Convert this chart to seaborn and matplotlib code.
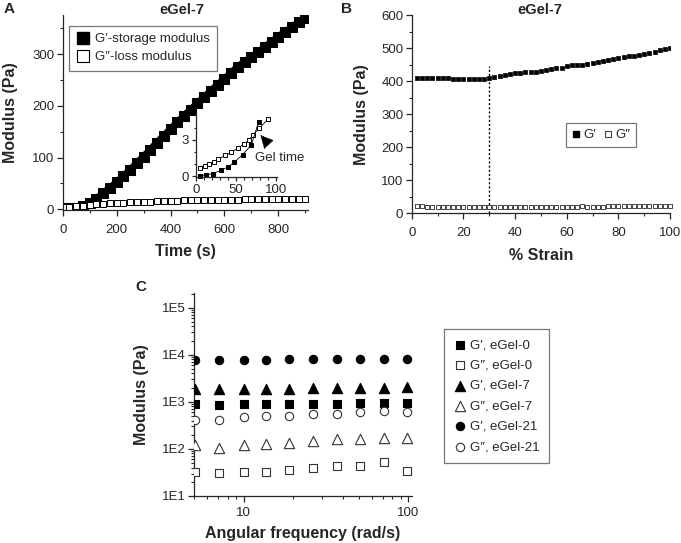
import numpy as np
import matplotlib
matplotlib.use("Agg")
import matplotlib.pyplot as plt
from matplotlib.ticker import MultipleLocator, LogLocator, NullFormatter, FuncFormatter
from matplotlib.lines import Line2D
import seaborn as sns

# ---- panel A: time sweep, eGel-7
time_a = [0, 25, 50, 75, 100, 125, 150, 175, 200, 225, 250, 275, 300, 325, 350, 375,
          400, 425, 450, 475, 500, 525, 550, 575, 600, 625, 650, 675, 700, 725, 750,
          775, 800, 825, 850, 875, 900]
gp_a = [2, 2, 3, 6, 12, 20, 31, 41, 52, 64, 76, 89, 102, 115, 129, 142,
        155, 168, 181, 193, 205, 217, 229, 241, 252, 264, 276, 285, 294, 304, 314,
        324, 334, 343, 352, 362, 370]
gpp_a = [4, 5, 6, 7, 9, 10, 11, 12, 13, 13, 14, 14, 15, 15, 16, 16,
         16, 16, 17, 17, 17, 17, 17, 18, 18, 18, 18, 19, 19, 19, 20,
         20, 20, 20, 20, 19, 19]

# inset: early gelation
time_in_gp = [5, 13, 21, 31, 40, 48, 58, 69, 78]
gp_in = [0.03, 0.1, 0.2, 0.48, 0.76, 1.15, 1.76, 2.57, 4.45]
time_in_gpp = [5, 11, 16, 22, 28, 36, 44, 52, 60, 66, 71, 79, 90]
gpp_in = [0.7, 0.85, 1.0, 1.15, 1.4, 1.7, 1.95, 2.3, 2.65, 2.95, 3.4, 3.95, 4.7]

# ---- panel B: strain sweep, eGel-7
strain_b = [2, 4, 6, 8, 10, 12, 14, 16, 18, 20, 22, 24, 26, 28, 30, 32, 34, 36, 38, 40,
            42, 44, 46, 48, 50, 52, 54, 56, 58, 60, 62, 64, 66, 68, 70, 72, 74, 76, 78, 80,
            82, 84, 86, 88, 90, 92, 94, 96, 98, 100]
gp_b = [410, 409, 408, 408, 408, 408, 408, 407, 407, 406, 405, 405, 406, 407, 409, 411,
        414, 417, 420, 423, 425, 427, 428, 429, 431, 434, 436, 439, 441, 446, 448, 449,
        450, 452, 454, 457, 460, 463, 466, 470, 472, 475, 477, 480, 483, 486, 489, 493,
        497, 500]
gpp_b = [21, 21, 20, 19, 20, 20, 19, 20, 20, 20, 19, 20, 20, 20, 19, 20,
         20, 20, 20, 20, 20, 19, 20, 20, 20, 20, 19, 20, 20, 20, 20, 20,
         21, 20, 20, 20, 20, 21, 21, 21, 21, 21, 21, 21, 21, 21, 21, 21,
         21, 21]
gel_strain = 30
gel_line_top = 445

# ---- panel C: frequency sweep
freq_c = [5.1, 7.1, 10, 13.6, 19, 26.3, 36.7, 50.8, 71, 98]
gp_egel0 = [880, 865, 890, 890, 890, 920, 920, 935, 935, 950]
gpp_egel0 = [31.8, 30.3, 31.8, 32.8, 35.1, 38.7, 43.9, 43.9, 53.5, 34.4]
gp_egel7 = [1920, 1920, 1920, 1920, 1920, 1950, 1970, 1990, 2010, 2030]
gpp_egel7 = [120, 103, 120, 128, 135, 148, 160, 162, 172, 172]
gp_egel21 = [7700, 7700, 7900, 7900, 7950, 7950, 7950, 8200, 8200, 8300]
gpp_egel21 = [415, 415, 465, 490, 510, 555, 555, 600, 640, 600]

sns.set_theme(style="ticks")
plt.rcParams['font.family'] = ['Liberation Sans', 'DejaVu Sans']
plt.rcParams.update({
    'axes.linewidth': 0.9,
    'xtick.major.size': 4, 'ytick.major.size': 4,
    'xtick.minor.size': 2.2, 'ytick.minor.size': 2.2,
    'xtick.major.width': 0.9, 'ytick.major.width': 0.9,
    'xtick.minor.width': 0.8, 'ytick.minor.width': 0.8,
    'xtick.labelsize': 9.5, 'ytick.labelsize': 9.5,
    'xtick.major.pad': 2, 'ytick.major.pad': 2,
})

W, H = 681, 543
fig = plt.figure(figsize=(W / 100, H / 100), dpi=100)


def rect(x0, y0, x1, y1):
    # pixel box (top-left origin) -> figure fraction
    return [x0 / W, 1 - y1 / H, (x1 - x0) / W, (y1 - y0) / H]


label_kw = dict(fontsize=11.5, fontweight='bold')

# ================= A
ax_a = fig.add_axes(rect(62.7, 15, 308, 210))
sns.lineplot(x=time_a, y=gp_a, ax=ax_a, color='black', lw=5.2, marker='s', markersize=6.6,
             markeredgecolor='black')
sns.lineplot(x=time_a, y=gpp_a, ax=ax_a, color='black', lw=0.6, marker='s', markersize=4.8,
             markerfacecolor='white', markeredgecolor='black', markeredgewidth=0.7)
ax_a.set_xlim(0, 910)
ax_a.set_ylim(-1.4, 376)
ax_a.xaxis.set_major_locator(MultipleLocator(200))
ax_a.xaxis.set_minor_locator(MultipleLocator(100))
ax_a.yaxis.set_major_locator(MultipleLocator(100))
ax_a.yaxis.set_minor_locator(MultipleLocator(50))
ax_a.tick_params(axis='x', which='major', pad=6)
ax_a.set_xlabel('Time (s)', labelpad=6, **label_kw)
ax_a.set_ylabel('Modulus (Pa)', labelpad=10, **label_kw)
sns.despine(ax=ax_a)
handles_a = [Line2D([], [], ls='', marker='s', markersize=9, color='black'),
             Line2D([], [], ls='', marker='s', markersize=9, markerfacecolor='white',
                    markeredgecolor='black', markeredgewidth=0.8)]
leg = ax_a.legend(handles_a, ['G\u2032-storage modulus', 'G\u2033-loss modulus'],
                  loc='upper left', bbox_to_anchor=(0.025, 0.945), fontsize=9.5,
                  frameon=True, fancybox=False, edgecolor='#555555', handlelength=1.0,
                  handletextpad=0.4, borderpad=0.55, labelspacing=0.45, borderaxespad=0)
leg.get_frame().set_linewidth(0.9)

# inset
ax_in = fig.add_axes(rect(196, 113, 277, 176.7))
ax_in.patch.set_alpha(0)
sns.lineplot(x=time_in_gpp, y=gpp_in, ax=ax_in, color='black', lw=0.6, marker='s',
             markersize=3.3, markerfacecolor='white', markeredgecolor='black',
             markeredgewidth=0.7, clip_on=False)
sns.lineplot(x=time_in_gp, y=gp_in, ax=ax_in, color='black', lw=0.6, marker='s',
             markersize=3.3, markeredgecolor='black', clip_on=False)
ax_in.set_xlim(0, 101)
ax_in.set_ylim(-0.05, 5.2)
ax_in.xaxis.set_major_locator(MultipleLocator(50))
ax_in.xaxis.set_minor_locator(MultipleLocator(10))
ax_in.yaxis.set_major_locator(MultipleLocator(3))
ax_in.yaxis.set_minor_locator(MultipleLocator(1))
ax_in.tick_params(labelsize=9.5, length=3)
ax_in.tick_params(which='minor', length=1.8)
ax_in.set_xlabel('')
ax_in.set_ylabel('')
sns.despine(ax=ax_in)
ax_in.annotate('', xy=(77.8, 3.56), xytext=(93, 2.45),
               arrowprops=dict(arrowstyle='-|>,head_length=0.7,head_width=0.35',
                               color='black', lw=0.6, ls=':'), annotation_clip=False)
ax_in.text(104, 1.5, 'Gel time', ha='center', va='center', fontsize=9.5, clip_on=False)

fig.text(182 / W, 1 - 10 / H, 'eGel-7', ha='center', va='center', fontsize=10.5,
         fontweight='bold')
fig.text(4 / W, 1 - 9 / H, 'A', ha='left', va='center', fontsize=11, fontweight='bold')

# ================= B
ax_b = fig.add_axes(rect(411.7, 15, 670, 213.3))
sns.scatterplot(x=strain_b, y=gpp_b, ax=ax_b, marker='s', s=9, color='white',
                edgecolor='#444444', linewidth=0.7, clip_on=False, zorder=3)
sns.scatterplot(x=strain_b, y=gp_b, ax=ax_b, marker='s', s=9, color='black',
                edgecolor='black', linewidth=0.5, zorder=3)
ax_b.plot([gel_strain, gel_strain], [0, gel_line_top], color='black', lw=1.0,
          ls=(0, (1.5, 1.5)))
ax_b.set_xlim(0, 100)
ax_b.set_ylim(0, 600)
ax_b.xaxis.set_major_locator(MultipleLocator(20))
ax_b.xaxis.set_minor_locator(MultipleLocator(10))
ax_b.yaxis.set_major_locator(MultipleLocator(100))
ax_b.yaxis.set_minor_locator(MultipleLocator(50))
ax_b.tick_params(axis='x', which='major', pad=6)
ax_b.set_xlabel('% Strain', labelpad=6, **label_kw)
ax_b.set_ylabel('Modulus (Pa)', labelpad=9, **label_kw)
sns.despine(ax=ax_b)
handles_b = [Line2D([], [], ls='', marker='s', markersize=5, color='black'),
             Line2D([], [], ls='', marker='s', markersize=5, markerfacecolor='white',
                    markeredgecolor='#444444', markeredgewidth=0.8)]
leg_b = ax_b.legend(handles_b, ['G\u2032', 'G\u2033'], ncol=2, loc='center',
                    bbox_to_anchor=((601 - 411.7) / 258.3, (213.3 - 135) / 198.3),
                    fontsize=9.5, frameon=True, fancybox=False, edgecolor='#555555',
                    handlelength=0.6, handletextpad=0.25, columnspacing=0.6,
                    borderpad=0.45)
leg_b.get_frame().set_linewidth(0.9)
fig.text(540 / W, 1 - 10 / H, 'eGel-7', ha='center', va='center', fontsize=10.5,
         fontweight='bold')
fig.text(341 / W, 1 - 9 / H, 'B', ha='left', va='center', fontsize=11, fontweight='bold')

# ================= C
ax_c = fig.add_axes(rect(194, 293, 411.7, 496))
series_c = [
    (gp_egel0, 's', 'black', 'black', 30, 'G\u2032, eGel-0'),
    (gpp_egel0, 's', 'white', '#333333', 28, 'G\u2033, eGel-0'),
    (gp_egel7, '^', 'black', 'black', 55, 'G\u2032, eGel-7'),
    (gpp_egel7, '^', 'white', '#333333', 55, 'G\u2033, eGel-7'),
    (gp_egel21, 'o', 'black', 'black', 36, 'G\u2032, eGel-21'),
    (gpp_egel21, 'o', 'white', '#333333', 36, 'G\u2033, eGel-21'),
]
for vals, mk, fc, ec, size, lab in series_c:
    sns.scatterplot(x=freq_c, y=vals, ax=ax_c, marker=mk, s=size, color=fc,
                    edgecolor=ec, linewidth=0.8, label=lab, zorder=3)
ax_c.set_xscale('log')
ax_c.set_yscale('log')
ax_c.set_xlim(5, 105)
ax_c.set_ylim(10, 2.05e5)
ax_c.xaxis.set_major_locator(LogLocator(base=10, numticks=10))
ax_c.xaxis.set_minor_locator(LogLocator(base=10, subs=np.arange(2, 10), numticks=10))
ax_c.xaxis.set_minor_formatter(NullFormatter())
ax_c.xaxis.set_major_formatter(FuncFormatter(lambda v, p: f'{v:g}'))
ax_c.yaxis.set_major_locator(LogLocator(base=10, numticks=10))
ax_c.yaxis.set_minor_locator(LogLocator(base=10, subs=np.arange(2, 10), numticks=10))
ax_c.yaxis.set_minor_formatter(NullFormatter())
ax_c.yaxis.set_major_formatter(FuncFormatter(lambda v, p: f'1E{int(round(np.log10(v)))}'))
ax_c.tick_params(axis='x', which='major', pad=4)
ax_c.set_xlabel('Angular frequency (rad/s)', labelpad=5, **label_kw)
ax_c.set_ylabel('Modulus (Pa)', labelpad=9, **label_kw)
sns.despine(ax=ax_c)
h, l = ax_c.get_legend_handles_labels()
ax_c.get_legend().remove()
leg_c = fig.legend(h, l, loc='upper left', bbox_to_anchor=(444 / W, 1 - 329 / H),
                   fontsize=9.5, frameon=True, fancybox=False, edgecolor='#555555',
                   handletextpad=0.2, labelspacing=0.62, borderpad=0.75,
                   handlelength=1.0, markerscale=1.0, borderaxespad=0)
leg_c.get_frame().set_linewidth(0.9)
fig.text(135 / W, 1 - 287 / H, 'C', ha='left', va='center', fontsize=11,
         fontweight='bold')

fig.savefig('out.png', dpi=100)
